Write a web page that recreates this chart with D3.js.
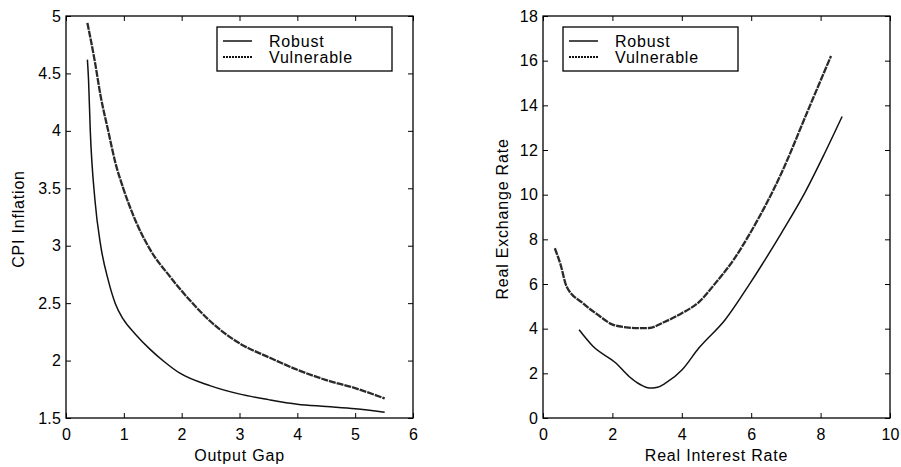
<!DOCTYPE html>
<html>
<head>
<meta charset="utf-8">
<script src="https://cdn.jsdelivr.net/npm/d3@7"></script>
<style>
  body { margin: 0; background: #fff; }
  text { font-family: "Liberation Sans", Arial, sans-serif; fill: #000; letter-spacing: 0.8px; }
  .tick text { letter-spacing: 0.2px; }
</style>
</head>
<body>
<div id="chart"></div>
<script>
// left panel: CPI inflation vs output gap
const gapRobust = [0.37, 0.39, 0.42, 0.5, 0.6, 0.73, 0.85, 0.99, 1.2, 1.45, 1.7, 1.97, 2.5, 2.99, 3.5, 4.0, 4.5, 5.0, 5.51];
const cpiRobust = [4.62, 4.44, 4.0, 3.4, 3.0, 2.7, 2.5, 2.36, 2.23, 2.1, 1.99, 1.89, 1.78, 1.71, 1.66, 1.62, 1.6, 1.58, 1.55];
const gapVuln = [0.37, 0.5, 0.6, 0.73, 0.85, 0.99, 1.2, 1.45, 1.8, 2.15, 2.5, 3.0, 3.5, 4.0, 4.5, 5.0, 5.51];
const cpiVuln = [4.94, 4.6, 4.3, 4.0, 3.73, 3.5, 3.22, 2.97, 2.73, 2.52, 2.34, 2.15, 2.03, 1.92, 1.83, 1.76, 1.67];

// right panel: real exchange rate vs real interest rate
const rateRobust = [1.04, 1.44, 2.1, 2.48, 2.8, 3.06, 3.3, 3.54, 4.01, 4.49, 5.25, 5.97, 6.87, 7.54, 8.1, 8.62];
const rerRobust = [3.95, 3.21, 2.46, 1.86, 1.5, 1.34, 1.38, 1.57, 2.16, 3.13, 4.4, 6.04, 8.28, 10.07, 11.8, 13.5];
const rateVuln = [0.34, 0.5, 0.68, 1.15, 1.6, 2.01, 2.4, 2.75, 3.06, 3.5, 4.01, 4.5, 4.97, 5.5, 5.97, 6.87, 7.64, 8.3];
const rerVuln = [7.6, 6.9, 5.89, 5.14, 4.6, 4.18, 4.06, 4.02, 4.03, 4.3, 4.7, 5.2, 6.04, 7.1, 8.28, 10.96, 13.79, 16.21];

const seriesNames = ["Robust", "Vulnerable"];
const gapTicks = [0, 1, 2, 3, 4, 5, 6];
const cpiTicks = [1.5, 2, 2.5, 3, 3.5, 4, 4.5, 5];
const rateTicks = [0, 2, 4, 6, 8, 10];
const rerTicks = [0, 2, 4, 6, 8, 10, 12, 14, 16, 18];

const width = 901, height = 467;
const svg = d3.select("#chart").append("svg")
    .attr("width", width)
    .attr("height", height);

function zip(xs, ys) {
    return xs.map(function(x, i) { return {x: x, y: ys[i]}; });
}

function panel(opt) {
    const xScale = d3.scaleLinear().domain(opt.xDomain).range([opt.left, opt.right]);
    const yScale = d3.scaleLinear().domain(opt.yDomain).range([418, 16]);
    const g = svg.append("g");

    // box with inward ticks on all sides
    g.append("g").attr("transform", "translate(0,418)")
        .call(d3.axisBottom(xScale).tickValues(opt.xTicks).tickSize(-5).tickPadding(11).tickFormat(d3.format("")))
        .call(function(a) { a.select(".domain").remove(); });
    g.append("g").attr("transform", "translate(0,16)")
        .call(d3.axisTop(xScale).tickValues(opt.xTicks).tickSize(-5).tickFormat(""))
        .call(function(a) { a.select(".domain").remove(); });
    g.append("g").attr("transform", `translate(${opt.left},0)`)
        .call(d3.axisLeft(yScale).tickValues(opt.yTicks).tickSize(-5).tickPadding(5).tickFormat(d3.format("")))
        .call(function(a) { a.select(".domain").remove(); });
    g.append("g").attr("transform", `translate(${opt.right},0)`)
        .call(d3.axisRight(yScale).tickValues(opt.yTicks).tickSize(-5).tickFormat(""))
        .call(function(a) { a.select(".domain").remove(); });
    g.selectAll(".tick text").style("font-size", "16px").style("font-family", "Liberation Sans, Arial, sans-serif");
    g.selectAll(".tick line").attr("stroke", "#000");

    g.append("rect")
        .attr("x", opt.left).attr("y", 16)
        .attr("width", opt.right - opt.left).attr("height", 402)
        .attr("fill", "none").attr("stroke", "#000").attr("stroke-width", 1.3);

    const line = d3.line()
        .x(function(d) { return xScale(d.x); })
        .y(function(d) { return yScale(d.y); })
        .curve(d3.curveMonotoneX);

    g.append("path").datum(opt.robust)
        .attr("d", line)
        .attr("fill", "none").attr("stroke", "#111").attr("stroke-width", 1.5);
    g.append("path").datum(opt.vuln)
        .attr("d", line)
        .attr("fill", "none").attr("stroke", "#2a2a2a").attr("stroke-width", 2.3)
        .attr("stroke-dasharray", "7,1");

    // axis labels
    g.append("text")
        .attr("x", (opt.left + opt.right) / 2).attr("y", 461)
        .attr("text-anchor", "middle").style("font-size", "16px")
        .text(opt.xLabel);
    g.append("text")
        .attr("transform", `translate(${opt.yLabelX},219) rotate(-90)`)
        .attr("text-anchor", "middle").style("font-size", "16px")
        .text(opt.yLabel);

    // legend
    const lg = g.append("g").attr("transform", `translate(${opt.legendX},27)`);
    lg.append("rect").attr("width", 175).attr("height", 44)
        .attr("fill", "#fff").attr("stroke", "#000").attr("stroke-width", 1.3);
    seriesNames.forEach(function(name, i) {
        lg.append("line")
            .attr("x1", 6).attr("x2", 35)
            .attr("y1", 14 + i * 16).attr("y2", 14 + i * 16)
            .attr("stroke", "#111")
            .attr("stroke-width", i === 0 ? 1.5 : 2)
            .attr("stroke-dasharray", i === 0 ? null : "2,1");
        lg.append("text")
            .attr("x", 52).attr("y", 20 + i * 16)
            .style("font-size", "16px")
            .text(name);
    });
}

panel({
    left: 66, right: 413,
    xDomain: [0, 6], yDomain: [1.5, 5],
    xTicks: gapTicks, yTicks: cpiTicks,
    robust: zip(gapRobust, cpiRobust), vuln: zip(gapVuln, cpiVuln),
    xLabel: "Output Gap", yLabel: "CPI Inflation", yLabelX: 24,
    legendX: 217
});

panel({
    left: 543, right: 890,
    xDomain: [0, 10], yDomain: [0, 18],
    xTicks: rateTicks, yTicks: rerTicks,
    robust: zip(rateRobust, rerRobust), vuln: zip(rateVuln, rerVuln),
    xLabel: "Real Interest Rate", yLabel: "Real Exchange Rate", yLabelX: 508,
    legendX: 563
});
</script>
</body>
</html>
